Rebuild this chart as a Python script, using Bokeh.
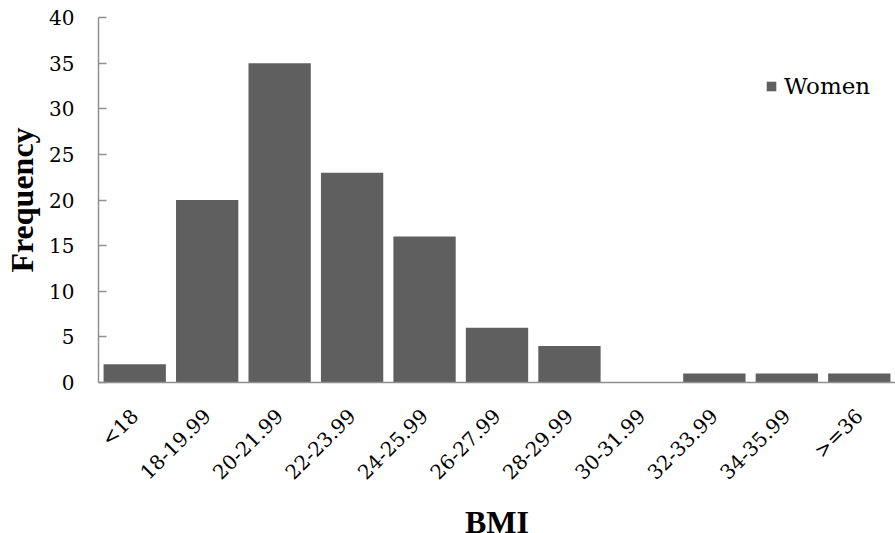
import math
from bokeh.plotting import figure
from bokeh.models import FactorRange, Range1d, FixedTicker, Legend, LegendItem, ColumnDataSource
from bokeh.embed import file_html
from bokeh.resources import INLINE

categories = ["<18", "18-19.99", "20-21.99", "22-23.99", "24-25.99", "26-27.99",
              "28-29.99", "30-31.99", "32-33.99", "34-35.99", ">=36"]
women = [2, 20, 35, 23, 16, 6, 4, 0, 1, 1, 1]
y_ticks = [0, 5, 10, 15, 20, 25, 30, 35, 40]

BOLD_FONT = "Liberation Serif"
REG_FONT = "DejaVu Serif"
BAR = "#5f5f5f"
AXIS = "#8f8f8f"

src = ColumnDataSource(dict(cat=categories, val=women))

p = figure(x_range=FactorRange(*categories, range_padding=0), y_range=Range1d(0, 40),
           width=895, height=533, output_backend="svg", toolbar_location=None,
           min_border_left=98, min_border_top=17, min_border_right=0, min_border_bottom=151,
           frame_width=797, frame_height=365)

r = p.vbar(x="cat", top="val", width=0.86, source=src, fill_color=BAR, line_color=None)

p.outline_line_color = None
p.xgrid.grid_line_color = None
p.ygrid.grid_line_color = None

# y axis
p.yaxis.ticker = FixedTicker(ticks=y_ticks)
p.yaxis.minor_tick_line_color = None
p.yaxis.axis_line_color = AXIS
p.yaxis.axis_line_width = 1.5
p.yaxis.major_tick_line_color = AXIS
p.yaxis.major_tick_line_width = 1.5
p.yaxis.major_tick_out = 0
p.yaxis.major_tick_in = 8
p.yaxis.major_label_text_font = REG_FONT
p.yaxis.major_label_text_font_size = "20px"
p.yaxis.major_label_text_color = "black"
p.yaxis.major_label_standoff = 24
p.yaxis.axis_label = "Frequency"
p.yaxis.axis_label_text_font = BOLD_FONT
p.yaxis.axis_label_text_font_size = "32px"
p.yaxis.axis_label_text_font_style = "bold"
p.yaxis.axis_label_text_color = "black"
p.yaxis.axis_label_standoff = 6

# x axis
p.xaxis.axis_line_color = AXIS
p.xaxis.axis_line_width = 1.5
p.xaxis.major_tick_line_color = None
p.xaxis.major_tick_out = 0
p.xaxis.major_tick_in = 0
p.xaxis.minor_tick_line_color = None
p.xaxis.major_label_orientation = math.pi / 4
p.xaxis.major_label_text_font = REG_FONT
p.xaxis.major_label_text_font_size = "20px"
p.xaxis.major_label_text_color = "black"
p.xaxis.major_label_standoff = 30
p.xaxis.axis_label = "BMI"
p.xaxis.axis_label_text_font = BOLD_FONT
p.xaxis.axis_label_text_font_size = "32px"
p.xaxis.axis_label_text_font_style = "bold"
p.xaxis.axis_label_text_color = "black"
p.xaxis.axis_label_standoff = 8

legend = Legend(items=[LegendItem(label="Women", renderers=[r])], location=(667, 283),
                label_text_font=REG_FONT, label_text_font_size="23px", label_text_color="black",
                glyph_width=12, glyph_height=12, label_standoff=7,
                padding=0, margin=0, border_line_color=None, background_fill_alpha=0)
p.add_layout(legend)

open("out.html", "w").write(file_html(p, INLINE))
